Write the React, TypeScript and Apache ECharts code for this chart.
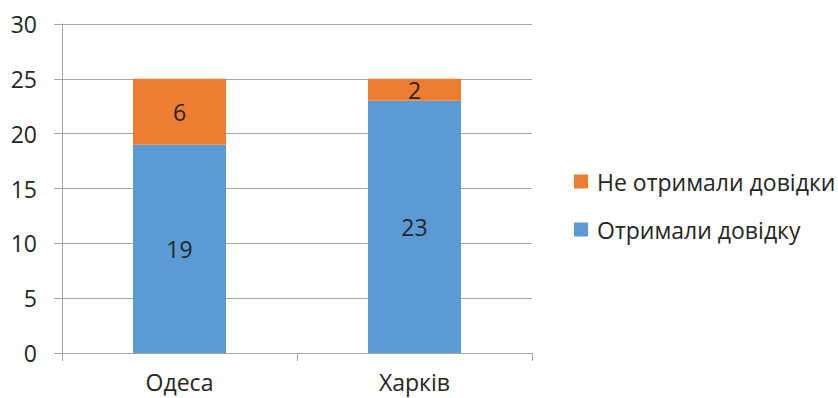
import React, { useEffect, useRef } from "react";
import * as echarts from "echarts";

const categories = ["Одеса", "Харків"];
const received = [19, 23];
const notReceived = [6, 2];
const seriesNames = ["Отримали довідку", "Не отримали довідки"];
const legendOrder = ["Не отримали довідки", "Отримали довідку"];

const FONT = "'Open Sans', 'Noto Sans', sans-serif";
const FS = 23;
const GRID_COLOR = "#a6a6a6";
const TEXT_COLOR = "#262626";

export default function App() {
  const ref = useRef<HTMLDivElement>(null);
  useEffect(() => {
    document.body.style.margin = "0";
    document.body.style.overflow = "hidden";
    if (!ref.current) return;
    const chart = echarts.init(ref.current, undefined, { renderer: "svg" });
    chart.setOption({
      animation: false,
      backgroundColor: "#ffffff",
      textStyle: { fontFamily: FONT },
      grid: { left: 62, right: 306, top: 24, bottom: 45, containLabel: false },
      legend: {
        orient: "vertical",
        left: 574,
        top: 170,
        padding: 0,
        itemWidth: 14,
        itemHeight: 14,
        itemGap: 25,
        icon: "rect",
        data: legendOrder,
        textStyle: {
          fontFamily: FONT,
          fontSize: FS,
          color: TEXT_COLOR,
          lineHeight: 23,
          padding: [0, 0, 0, 4],
        },
      },
      xAxis: {
        type: "category",
        data: categories,
        axisLine: { show: true, lineStyle: { color: GRID_COLOR, width: 1 } },
        axisTick: { show: true, length: 8, lineStyle: { color: GRID_COLOR } },
        axisLabel: {
          fontFamily: FONT,
          fontSize: FS,
          color: TEXT_COLOR,
          margin: 17,
          lineHeight: 23,
        },
      },
      yAxis: {
        type: "value",
        min: 0,
        max: 30,
        interval: 5,
        axisLine: { show: true, lineStyle: { color: GRID_COLOR, width: 1 } },
        axisTick: { show: true, length: 8, lineStyle: { color: GRID_COLOR } },
        splitLine: { show: true, lineStyle: { color: GRID_COLOR, width: 1 } },
        axisLabel: {
          fontFamily: FONT,
          fontSize: FS,
          color: TEXT_COLOR,
          margin: 25,
        },
      },
      series: [
        {
          name: seriesNames[0],
          type: "bar",
          stack: "total",
          data: received,
          barWidth: 93,
          itemStyle: { color: "#5B9BD5" },
          label: {
            show: true,
            position: "inside",
            fontFamily: FONT,
            fontSize: FS,
            color: TEXT_COLOR,
          },
        },
        {
          name: seriesNames[1],
          type: "bar",
          stack: "total",
          data: notReceived,
          barWidth: 93,
          itemStyle: { color: "#ED7D31" },
          label: {
            show: true,
            position: "inside",
            fontFamily: FONT,
            fontSize: FS,
            color: TEXT_COLOR,
          },
        },
      ],
    });
    return () => chart.dispose();
  }, []);
  return (
    <div
      ref={ref}
      style={{ position: "absolute", left: 0, top: 0, width: 838, height: 398 }}
    />
  );
}
